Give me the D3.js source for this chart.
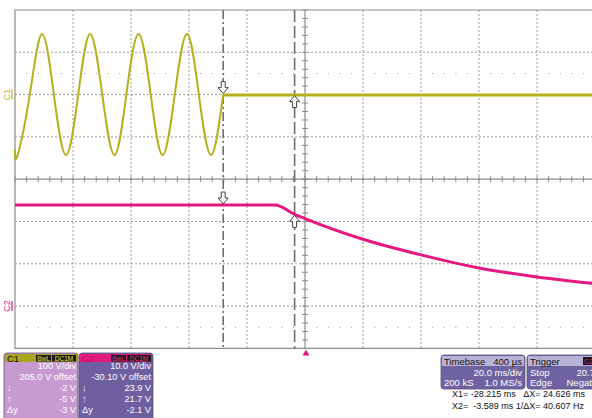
<!DOCTYPE html>
<html>
<head>
<meta charset="utf-8">
<script src="https://cdn.jsdelivr.net/npm/d3@7"></script>
<style>
  body { margin: 0; background: #fff; }
  svg { display: block; font-family: "Liberation Sans", Arial, sans-serif; }
</style>
</head>
<body>
<div class="scope"></div>
<script>
// C1: 60 Hz sine read at its peaks / zero crossings (ms, V), then flat after the drop-out
var c1Times = [-100, -99.1, -94.9, -90.7, -86.6, -82.4, -78.2, -74.1, -69.9, -65.7, -61.6,
               -57.4, -53.2, -49.1, -44.9, -40.7, -36.6, -32.4, -28.2];
var c1Volts = [-130, -143, 0, 143, 0, -143, 0, 143, 0, -143, 0,
               143, 0, -143, 0, 143, 0, -143, 0];
var c1FlatTimes = [-28.2, 100];
var c1FlatVolts = [-1, -1];

// C2: DC bus, flat then decaying (ms, V)
var c2Times = [-100, -10.3, -3.6, 0, 20, 40, 60, 80, 100];
var c2Volts = [23.9, 23.9, 21.7, 20.7, 15.8, 12.1, 9.0, 6.9, 5.3];

// cursors (ms) and the values read at them
var cursorTimes = [-28.215, -3.589];
var c2CursorVolts = [23.9, 21.7];

var c1Info = ["100 V/div", "205.0 V offset", "-2 V", "-5 V", "-3 V"];
var c2Info = ["10.0 V/div", "-30.10 V offset", "23.9 V", "21.7 V", "-2.1 V"];
var rowSymbols = ["", "", "\u2193", "\u2191", "\u0394y"];
var cursorText = ["X1= -28.215 ms   \u0394X= 24.626 ms", "X2=  -3.589 ms 1/\u0394X= 40.607 Hz"];

const W = 592, H = 418;
const c1Color = "#b3b21c", c2Color = "#e6177e";
const gridColor = "#9a9a9a";

const svg = d3.select(".scope").append("svg")
    .attr("width", W)
    .attr("height", H);

// graticule: 10 x 8 divisions, two 4-div panels
const gLeft = 15, gRight = 595, gTop = 10, gMid = 179.2, gBottom = 348.4;
var x = d3.scaleLinear().domain([-100, 100]).range([gLeft, gRight]);
var y1 = d3.scaleLinear().domain([-200, 200]).range([gMid, gTop]);
var y2 = d3.scaleLinear().domain([-10, 30]).range([gBottom, gMid]);

const grid = svg.append("g");

// dotted division lines
grid.selectAll(".vgrid")
    .data(d3.range(-80, 100, 20).filter(d => d !== 0))
    .enter().append("line")
    .attr("x1", d => x(d)).attr("x2", d => x(d))
    .attr("y1", gTop).attr("y2", gBottom)
    .attr("stroke", gridColor).attr("stroke-dasharray", "2,2");

var hLines = [y1(100), y1(0), y1(-100), y2(20), y2(10), y2(0)];
grid.selectAll(".hgrid")
    .data(hLines)
    .enter().append("line")
    .attr("x1", gLeft).attr("x2", gRight)
    .attr("y1", d => d).attr("y2", d => d)
    .attr("stroke", gridColor).attr("stroke-dasharray", "2,2");

// rows of sub-division dots
var dotRows = [y1(50), y2(-5)];
var dotXs = [];
d3.range(-100, 100, 20).forEach(function(d) {
    for (var k = 1; k < 5; k++) dotXs.push(d + k * 4);
});
dotRows.forEach(function(yy) {
    grid.selectAll(null)
        .data(dotXs)
        .enter().append("rect")
        .attr("x", d => x(d) - 0.5).attr("y", yy - 0.5)
        .attr("width", 1.2).attr("height", 1.2)
        .attr("fill", "#b0b0b0");
});

// solid borders and centre axes
grid.append("path")
    .attr("d", `M${gRight},${gTop}H${gLeft}V${gBottom}H${gRight}`)
    .attr("fill", "none").attr("stroke", "#8c8c8c").attr("stroke-width", 1.2);
grid.append("line")
    .attr("x1", gLeft).attr("x2", gRight).attr("y1", gMid).attr("y2", gMid)
    .attr("stroke", "#8c8c8c").attr("stroke-width", 1.2);
grid.append("line")
    .attr("x1", x(0)).attr("x2", x(0)).attr("y1", gTop).attr("y2", gBottom)
    .attr("stroke", "#8c8c8c").attr("stroke-width", 1.2);

// minor ticks on the centre axes
grid.selectAll(".htick")
    .data(d3.range(-100, 100.1, 4))
    .enter().append("line")
    .attr("x1", d => x(d)).attr("x2", d => x(d))
    .attr("y1", gMid - 3).attr("y2", gMid + 3)
    .attr("stroke", "#8c8c8c");
grid.selectAll(".vtick")
    .data(d3.range(-200, 200.1, 20))
    .enter().append("line")
    .attr("x1", x(0) - 3).attr("x2", x(0) + 3)
    .attr("y1", d => y1(d)).attr("y2", d => y1(d))
    .attr("stroke", "#8c8c8c");
grid.selectAll(".vtick2")
    .data(d3.range(-10, 30.1, 2))
    .enter().append("line")
    .attr("x1", x(0) - 3).attr("x2", x(0) + 3)
    .attr("y1", d => y2(d)).attr("y2", d => y2(d))
    .attr("stroke", "#8c8c8c");

// cursors
svg.append("line")
    .attr("x1", x(cursorTimes[0])).attr("x2", x(cursorTimes[0]))
    .attr("y1", gTop).attr("y2", gBottom)
    .attr("stroke", "#6e6e6e").attr("stroke-width", 1.6)
    .attr("stroke-dasharray", "9,3,2,3");
svg.append("line")
    .attr("x1", x(cursorTimes[1])).attr("x2", x(cursorTimes[1]))
    .attr("y1", gTop).attr("y2", gBottom)
    .attr("stroke", "#6e6e6e").attr("stroke-width", 1.6)
    .attr("stroke-dasharray", "12,4");

// traces
var line1 = d3.line()
    .x((d, i) => x(c1Times[i]))
    .y(d => y1(d))
    .curve(d3.curveNatural);
svg.append("path")
    .attr("d", line1(c1Volts))
    .attr("fill", "none").attr("stroke", c1Color).attr("stroke-width", 2);

var flat1 = d3.line()
    .x((d, i) => x(c1FlatTimes[i]))
    .y(d => y1(d));
svg.append("path")
    .attr("d", flat1(c1FlatVolts))
    .attr("fill", "none").attr("stroke", c1Color).attr("stroke-width", 3.2);

var line2 = d3.line()
    .x((d, i) => x(c2Times[i]))
    .y(d => y2(d))
    .curve(d3.curveMonotoneX);
svg.append("path")
    .attr("d", line2(c2Volts))
    .attr("fill", "none").attr("stroke", c2Color).attr("stroke-width", 3);

// hollow cursor arrows
const downArrow = "M0,0L-5,-6L-2,-6L-2,-12L2,-12L2,-6L5,-6Z";
const upArrow = "M0,0L-5,6L-2,6L-2,12L2,12L2,6L5,6Z";
function arrow(px, py, shape) {
    svg.append("path")
        .attr("d", shape)
        .attr("transform", `translate(${px},${py})`)
        .attr("fill", "#fff").attr("stroke", "#444").attr("stroke-width", 1);
}
arrow(x(cursorTimes[0]), y1(0) - 1, downArrow);
arrow(x(cursorTimes[1]), y1(0) + 1, upArrow);
arrow(x(cursorTimes[0]), y2(c2CursorVolts[0]) - 1, downArrow);
arrow(x(cursorTimes[1]), y2(c2CursorVolts[1]) + 1, upArrow);

// trigger position marker
svg.append("path")
    .attr("d", `M${x(0) + 1},${gBottom + 1}l-3.5,6h7z`)
    .attr("fill", c2Color);

// channel reference labels
function refLabel(txt, yy, color) {
    var g = svg.append("g").attr("transform", `translate(10,${yy}) rotate(-90)`);
    g.append("text").text(txt)
        .attr("x", 0).attr("y", 0)
        .attr("text-anchor", "middle")
        .attr("font-size", 9).attr("fill", color);
    g.append("line").attr("x1", -5).attr("x2", 5).attr("y1", 2).attr("y2", 2)
        .attr("stroke", color).attr("stroke-width", 1.2);
}
refLabel("C1", y1(0), c1Color);
refLabel("C2", y2(0), c2Color);

// channel info boxes
function channelBox(bx, label, headColor, bodyColor, badgeText, values) {
    var g = svg.append("g").attr("transform", `translate(${bx},353)`);
    g.append("rect").attr("width", 74).attr("height", 68).attr("rx", 3)
        .attr("fill", bodyColor).attr("stroke", "#5a5078").attr("stroke-width", 0.8);
    g.append("rect").attr("x", 1).attr("y", 1).attr("width", 72).attr("height", 8)
        .attr("fill", headColor);
    g.append("text").text(label).attr("x", 3).attr("y", 8.5)
        .attr("font-size", 9.5).attr("fill", label === "C1" ? "#111" : "#c0106a");
    g.append("rect").attr("x", 32).attr("y", 2).attr("width", 15).attr("height", 6.5).attr("fill", "#1a1a1a");
    g.append("rect").attr("x", 48).attr("y", 2).attr("width", 24).attr("height", 6.5).attr("fill", "#1a1a1a");
    g.append("text").text("BwL").attr("x", 39.5).attr("y", 7.8).attr("text-anchor", "middle")
        .attr("font-size", 6.5).attr("fill", badgeText);
    g.append("text").text("DC1M").attr("x", 60).attr("y", 7.8).attr("text-anchor", "middle")
        .attr("font-size", 6.5).attr("fill", badgeText);
    g.selectAll(".val").data(values).enter().append("text")
        .text(d => d)
        .attr("x", 72).attr("y", (d, i) => 16 + i * 11)
        .attr("text-anchor", "end")
        .attr("font-size", 9.2).attr("fill", "#fff");
    g.selectAll(".sym").data(rowSymbols).enter().append("text")
        .text(d => d)
        .attr("x", 3).attr("y", (d, i) => 16 + i * 11)
        .attr("font-size", 9.2).attr("fill", "#fff");
}
channelBox(4, "C1", "#aaa51e", "#c79bd1", "#e6e040", c1Info);
channelBox(79, "C2", "#e5197d", "#6e5fa0", "#f0308c", c2Info);

// timebase / trigger boxes
function infoBox(bx, w, head, headRight, rows) {
    var g = svg.append("g").attr("transform", `translate(${bx},355)`);
    g.append("rect").attr("width", w).attr("height", 34).attr("rx", 3)
        .attr("fill", "#6e63a0").attr("stroke", "#5a5078").attr("stroke-width", 0.8);
    g.append("rect").attr("x", 1).attr("y", 1).attr("width", w - 2).attr("height", 10)
        .attr("fill", "#b9b2d6");
    g.append("text").text(head).attr("x", 3).attr("y", 9.5)
        .attr("font-size", 9.5).attr("fill", "#111");
    if (headRight.badge) {
        g.append("rect").attr("x", w - 24).attr("y", 2).attr("width", 22).attr("height", 8).attr("fill", "#1a1a1a");
        g.append("text").text(headRight.text).attr("x", w - 23).attr("y", 9)
            .attr("font-size", 7.5).attr("fill", "#e5197d");
    } else {
        g.append("text").text(headRight.text).attr("x", w - 3).attr("y", 9.5)
            .attr("text-anchor", "end").attr("font-size", 9.5).attr("fill", "#111");
    }
    rows.forEach(function(r, i) {
        g.append("text").text(r[0]).attr("x", 3).attr("y", 20.5 + i * 10.5)
            .attr("font-size", 9.5).attr("fill", "#fff");
        g.append("text").text(r[1]).attr("x", w - 3).attr("y", 20.5 + i * 10.5)
            .attr("text-anchor", "end").attr("font-size", 9.5).attr("fill", "#fff");
    });
}
infoBox(441, 84, "Timebase", {text: "400 \u00b5s"}, [["", "20.0 ms/div"], ["200 kS", "1.0 MS/s"]]);
infoBox(527, 80, "Trigger", {text: "C2 DC", badge: true}, [["Stop", "20.7 V"], ["Edge", "Negative"]]);

// cursor readout
svg.selectAll(".readout").data(cursorText).enter().append("text")
    .text(d => d)
    .attr("x", 452).attr("y", (d, i) => 397 + i * 12)
    .attr("font-size", 9).attr("fill", "#111")
    .attr("xml:space", "preserve")
    .style("white-space", "pre");
</script>
</body>
</html>
